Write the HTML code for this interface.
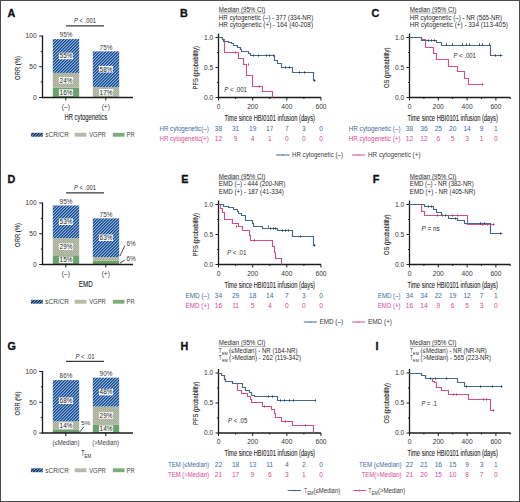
<!DOCTYPE html>
<html><head><meta charset="utf-8"><style>
html,body{margin:0;padding:0;background:#fff;}
svg{display:block;font-family:'Liberation Sans', sans-serif;}
</style></head><body>
<svg width="520" height="502" viewBox="0 0 520 502">
<defs>
<pattern id="hatch" patternUnits="userSpaceOnUse" width="3" height="3">
<rect x="0" y="0" width="1" height="1" fill="#1d4a86"/>
<rect x="1" y="0" width="1" height="1" fill="#4072b0"/>
<rect x="2" y="0" width="1" height="1" fill="#8cb2e2"/>
<rect x="0" y="1" width="1" height="1" fill="#4072b0"/>
<rect x="1" y="1" width="1" height="1" fill="#8cb2e2"/>
<rect x="2" y="1" width="1" height="1" fill="#1d4a86"/>
<rect x="0" y="2" width="1" height="1" fill="#8cb2e2"/>
<rect x="1" y="2" width="1" height="1" fill="#1d4a86"/>
<rect x="2" y="2" width="1" height="1" fill="#4072b0"/>
</pattern>
<pattern id="gray" patternUnits="userSpaceOnUse" width="2" height="2">
<rect x="0" y="0" width="1" height="1" fill="#c0c5b2"/>
<rect x="1" y="0" width="1" height="1" fill="#a2aa95"/>
<rect x="0" y="1" width="1" height="1" fill="#a6ae9a"/>
<rect x="1" y="1" width="1" height="1" fill="#bac0ac"/>
</pattern>
<pattern id="hatchL" patternUnits="userSpaceOnUse" width="3" height="3"><rect x="0" y="0" width="1" height="1" fill="#0f2f55"/><rect x="1" y="0" width="1" height="1" fill="#2c5488"/><rect x="2" y="0" width="1" height="1" fill="#7c9cc6"/><rect x="0" y="1" width="1" height="1" fill="#2c5488"/><rect x="1" y="1" width="1" height="1" fill="#7c9cc6"/><rect x="2" y="1" width="1" height="1" fill="#0f2f55"/><rect x="0" y="2" width="1" height="1" fill="#7c9cc6"/><rect x="1" y="2" width="1" height="1" fill="#0f2f55"/><rect x="2" y="2" width="1" height="1" fill="#2c5488"/></pattern>
</defs>
<rect x="0" y="0" width="520" height="502" fill="#fff"/>
<text x="7.60" y="16.50" font-size="10.8" fill="#111" font-weight="bold" stroke="#111" stroke-width="0.3">A</text>
<text x="85.00" y="23.05" font-size="6.8" fill="#2e2e2e" text-anchor="middle" textLength="22.20" lengthAdjust="spacingAndGlyphs"><tspan font-style="italic">P</tspan> &lt; .001</text>
<line x1="66.00" y1="25.90" x2="104.00" y2="25.90" stroke="#3a3a3a" stroke-width="1.15"/>
<line x1="42.50" y1="35.50" x2="42.50" y2="98.20" stroke="#1c1c1c" stroke-width="1.3"/>
<line x1="39.20" y1="97.50" x2="42.50" y2="97.50" stroke="#1c1c1c" stroke-width="1"/>
<line x1="39.20" y1="66.75" x2="42.50" y2="66.75" stroke="#1c1c1c" stroke-width="1"/>
<line x1="39.20" y1="36.00" x2="42.50" y2="36.00" stroke="#1c1c1c" stroke-width="1"/>
<line x1="40.80" y1="82.12" x2="42.50" y2="82.12" stroke="#1c1c1c" stroke-width="1"/>
<line x1="40.80" y1="51.38" x2="42.50" y2="51.38" stroke="#1c1c1c" stroke-width="1"/>
<text x="36.60" y="38.38" font-size="6.6" fill="#333" text-anchor="end">100</text>
<text x="36.60" y="69.13" font-size="6.6" fill="#333" text-anchor="end">50</text>
<text x="36.60" y="99.88" font-size="6.6" fill="#333" text-anchor="end">0</text>
<text x="0" y="0" font-size="7.4" fill="#2a2a2a" stroke="#2a2a2a" stroke-width="0.12" text-anchor="middle" textLength="23.8" lengthAdjust="spacingAndGlyphs" transform="translate(20.4,68) rotate(-90)">ORR (%)</text>
<rect x="52.80" y="87.66" width="26.40" height="9.84" fill="#6ca36d"/>
<rect x="52.80" y="72.90" width="26.40" height="14.76" fill="url(#gray)"/>
<rect x="52.80" y="39.08" width="26.40" height="33.83" fill="url(#hatch)"/>
<rect x="58.90" y="89.28" width="14.20" height="6.60" fill="rgba(255,255,255,0.94)"/>
<text x="66.00" y="94.88" font-size="6.4" fill="#262626" text-anchor="middle">16%</text>
<rect x="58.90" y="76.98" width="14.20" height="6.60" fill="rgba(255,255,255,0.94)"/>
<text x="66.00" y="82.58" font-size="6.4" fill="#262626" text-anchor="middle">24%</text>
<rect x="58.90" y="52.69" width="14.20" height="6.60" fill="rgba(255,255,255,0.94)"/>
<text x="66.00" y="58.29" font-size="6.4" fill="#262626" text-anchor="middle">55%</text>
<text x="66.00" y="37.28" font-size="6.4" fill="#3a3a3a" text-anchor="middle">95%</text>
<rect x="92.80" y="87.05" width="26.40" height="10.45" fill="url(#gray)"/>
<rect x="92.80" y="51.38" width="26.40" height="35.67" fill="url(#hatch)"/>
<rect x="98.90" y="88.97" width="14.20" height="6.60" fill="rgba(255,255,255,0.94)"/>
<text x="106.00" y="94.58" font-size="6.4" fill="#262626" text-anchor="middle">17%</text>
<rect x="98.90" y="65.91" width="14.20" height="6.60" fill="rgba(255,255,255,0.94)"/>
<text x="106.00" y="71.51" font-size="6.4" fill="#262626" text-anchor="middle">58%</text>
<text x="106.00" y="49.58" font-size="6.4" fill="#3a3a3a" text-anchor="middle">75%</text>
<line x1="41.90" y1="97.50" x2="133.00" y2="97.50" stroke="#1c1c1c" stroke-width="1.4"/>
<line x1="65.80" y1="97.50" x2="65.80" y2="100.50" stroke="#1c1c1c" stroke-width="1"/>
<line x1="105.80" y1="97.50" x2="105.80" y2="100.50" stroke="#1c1c1c" stroke-width="1"/>
<text x="65.80" y="109.08" font-size="6.6" fill="#3a3a3a" text-anchor="middle">(–)</text>
<text x="105.80" y="109.08" font-size="6.6" fill="#3a3a3a" text-anchor="middle">(+)</text>
<text x="0" y="0" font-size="8.4" fill="#2a2a2a" stroke="#2a2a2a" stroke-width="0.12" text-anchor="middle" textLength="42.5" lengthAdjust="spacingAndGlyphs" transform="translate(85.8,120.1)">HR cytogenetics</text>
<rect x="30.90" y="132.80" width="11.90" height="3.90" fill="url(#hatchL)"/>
<text x="45.30" y="137.11" font-size="6.7" fill="#444" textLength="23.60" lengthAdjust="spacingAndGlyphs">sCR/CR</text>
<rect x="74.70" y="132.80" width="11.70" height="3.90" fill="#b5bba8"/>
<text x="89.20" y="137.11" font-size="6.7" fill="#444" textLength="16.60" lengthAdjust="spacingAndGlyphs">VGPR</text>
<rect x="112.80" y="132.80" width="11.70" height="3.90" fill="#7cae7c"/>
<text x="126.60" y="137.11" font-size="6.7" fill="#444" textLength="8.10" lengthAdjust="spacingAndGlyphs">PR</text>
<text x="7.60" y="183.20" font-size="10.8" fill="#111" font-weight="bold" stroke="#111" stroke-width="0.3">D</text>
<text x="85.00" y="190.05" font-size="6.8" fill="#2e2e2e" text-anchor="middle" textLength="22.20" lengthAdjust="spacingAndGlyphs"><tspan font-style="italic">P</tspan> &lt; .001</text>
<line x1="66.00" y1="192.90" x2="104.00" y2="192.90" stroke="#3a3a3a" stroke-width="1.15"/>
<line x1="42.50" y1="202.50" x2="42.50" y2="265.20" stroke="#1c1c1c" stroke-width="1.3"/>
<line x1="39.20" y1="264.50" x2="42.50" y2="264.50" stroke="#1c1c1c" stroke-width="1"/>
<line x1="39.20" y1="233.75" x2="42.50" y2="233.75" stroke="#1c1c1c" stroke-width="1"/>
<line x1="39.20" y1="203.00" x2="42.50" y2="203.00" stroke="#1c1c1c" stroke-width="1"/>
<line x1="40.80" y1="249.12" x2="42.50" y2="249.12" stroke="#1c1c1c" stroke-width="1"/>
<line x1="40.80" y1="218.38" x2="42.50" y2="218.38" stroke="#1c1c1c" stroke-width="1"/>
<text x="36.60" y="205.38" font-size="6.6" fill="#333" text-anchor="end">100</text>
<text x="36.60" y="236.13" font-size="6.6" fill="#333" text-anchor="end">50</text>
<text x="36.60" y="266.88" font-size="6.6" fill="#333" text-anchor="end">0</text>
<text x="0" y="0" font-size="7.4" fill="#2a2a2a" stroke="#2a2a2a" stroke-width="0.12" text-anchor="middle" textLength="23.8" lengthAdjust="spacingAndGlyphs" transform="translate(20.4,235) rotate(-90)">ORR (%)</text>
<rect x="52.80" y="255.28" width="26.40" height="9.22" fill="#6ca36d"/>
<rect x="52.80" y="238.06" width="26.40" height="17.22" fill="url(#gray)"/>
<rect x="52.80" y="205.46" width="26.40" height="32.59" fill="url(#hatch)"/>
<rect x="58.90" y="256.59" width="14.20" height="6.60" fill="rgba(255,255,255,0.94)"/>
<text x="66.00" y="262.19" font-size="6.4" fill="#262626" text-anchor="middle">15%</text>
<rect x="58.90" y="243.37" width="14.20" height="6.60" fill="rgba(255,255,255,0.94)"/>
<text x="66.00" y="248.97" font-size="6.4" fill="#262626" text-anchor="middle">29%</text>
<rect x="58.90" y="218.46" width="14.20" height="6.60" fill="rgba(255,255,255,0.94)"/>
<text x="66.00" y="224.06" font-size="6.4" fill="#262626" text-anchor="middle">53%</text>
<text x="66.00" y="203.66" font-size="6.4" fill="#3a3a3a" text-anchor="middle">95%</text>
<rect x="92.80" y="260.81" width="26.40" height="3.69" fill="#6ca36d"/>
<rect x="92.80" y="257.12" width="26.40" height="3.69" fill="url(#gray)"/>
<rect x="92.80" y="218.38" width="26.40" height="38.75" fill="url(#hatch)"/>
<rect x="98.90" y="234.45" width="14.20" height="6.60" fill="rgba(255,255,255,0.94)"/>
<text x="106.00" y="240.05" font-size="6.4" fill="#262626" text-anchor="middle">63%</text>
<text x="106.00" y="216.58" font-size="6.4" fill="#3a3a3a" text-anchor="middle">75%</text>
<line x1="41.90" y1="264.50" x2="133.00" y2="264.50" stroke="#1c1c1c" stroke-width="1.4"/>
<line x1="65.80" y1="264.50" x2="65.80" y2="267.50" stroke="#1c1c1c" stroke-width="1"/>
<line x1="105.80" y1="264.50" x2="105.80" y2="267.50" stroke="#1c1c1c" stroke-width="1"/>
<text x="65.80" y="276.08" font-size="6.6" fill="#3a3a3a" text-anchor="middle">(–)</text>
<text x="105.80" y="276.08" font-size="6.6" fill="#3a3a3a" text-anchor="middle">(+)</text>
<text x="0" y="0" font-size="8.4" fill="#2a2a2a" stroke="#2a2a2a" stroke-width="0.12" text-anchor="middle" textLength="14" lengthAdjust="spacingAndGlyphs" transform="translate(85.8,287.1)">EMD</text>
<text x="126.50" y="246.00" font-size="6.4" fill="#3a3a3a">6%</text>
<text x="126.50" y="260.80" font-size="6.4" fill="#3a3a3a">6%</text>
<line x1="120.00" y1="256.00" x2="124.80" y2="245.50" stroke="#222" stroke-width="0.8"/>
<line x1="120.00" y1="263.20" x2="124.80" y2="260.00" stroke="#222" stroke-width="0.8"/>
<rect x="30.90" y="299.80" width="11.90" height="3.90" fill="url(#hatchL)"/>
<text x="45.30" y="304.11" font-size="6.7" fill="#444" textLength="23.60" lengthAdjust="spacingAndGlyphs">sCR/CR</text>
<rect x="74.70" y="299.80" width="11.70" height="3.90" fill="#b5bba8"/>
<text x="89.20" y="304.11" font-size="6.7" fill="#444" textLength="16.60" lengthAdjust="spacingAndGlyphs">VGPR</text>
<rect x="112.80" y="299.80" width="11.70" height="3.90" fill="#7cae7c"/>
<text x="126.60" y="304.11" font-size="6.7" fill="#444" textLength="8.10" lengthAdjust="spacingAndGlyphs">PR</text>
<text x="7.60" y="349.80" font-size="10.8" fill="#111" font-weight="bold" stroke="#111" stroke-width="0.3">G</text>
<text x="85.00" y="358.55" font-size="6.8" fill="#2e2e2e" text-anchor="middle" textLength="19.20" lengthAdjust="spacingAndGlyphs"><tspan font-style="italic">P</tspan> &lt; .01</text>
<line x1="66.00" y1="361.40" x2="104.00" y2="361.40" stroke="#3a3a3a" stroke-width="1.15"/>
<line x1="42.50" y1="371.00" x2="42.50" y2="433.70" stroke="#1c1c1c" stroke-width="1.3"/>
<line x1="39.20" y1="433.00" x2="42.50" y2="433.00" stroke="#1c1c1c" stroke-width="1"/>
<line x1="39.20" y1="402.25" x2="42.50" y2="402.25" stroke="#1c1c1c" stroke-width="1"/>
<line x1="39.20" y1="371.50" x2="42.50" y2="371.50" stroke="#1c1c1c" stroke-width="1"/>
<line x1="40.80" y1="417.62" x2="42.50" y2="417.62" stroke="#1c1c1c" stroke-width="1"/>
<line x1="40.80" y1="386.88" x2="42.50" y2="386.88" stroke="#1c1c1c" stroke-width="1"/>
<text x="36.60" y="373.88" font-size="6.6" fill="#333" text-anchor="end">100</text>
<text x="36.60" y="404.63" font-size="6.6" fill="#333" text-anchor="end">50</text>
<text x="36.60" y="435.38" font-size="6.6" fill="#333" text-anchor="end">0</text>
<text x="0" y="0" font-size="7.4" fill="#2a2a2a" stroke="#2a2a2a" stroke-width="0.12" text-anchor="middle" textLength="23.8" lengthAdjust="spacingAndGlyphs" transform="translate(20.4,403.5) rotate(-90)">ORR (%)</text>
<rect x="52.80" y="429.93" width="26.40" height="3.07" fill="#6ca36d"/>
<rect x="52.80" y="421.31" width="26.40" height="8.61" fill="url(#gray)"/>
<rect x="52.80" y="380.11" width="26.40" height="41.20" fill="url(#hatch)"/>
<rect x="58.90" y="422.32" width="14.20" height="6.60" fill="rgba(255,255,255,0.94)"/>
<text x="66.00" y="427.92" font-size="6.4" fill="#262626" text-anchor="middle">14%</text>
<rect x="58.90" y="397.41" width="14.20" height="6.60" fill="rgba(255,255,255,0.94)"/>
<text x="66.00" y="403.02" font-size="6.4" fill="#262626" text-anchor="middle">68%</text>
<text x="66.00" y="378.31" font-size="6.4" fill="#3a3a3a" text-anchor="middle">86%</text>
<rect x="92.80" y="424.39" width="26.40" height="8.61" fill="#6ca36d"/>
<rect x="92.80" y="406.56" width="26.40" height="17.83" fill="url(#gray)"/>
<rect x="92.80" y="377.65" width="26.40" height="28.91" fill="url(#hatch)"/>
<rect x="98.90" y="425.39" width="14.20" height="6.60" fill="rgba(255,255,255,0.94)"/>
<text x="106.00" y="431.00" font-size="6.4" fill="#262626" text-anchor="middle">14%</text>
<rect x="98.90" y="412.17" width="14.20" height="6.60" fill="rgba(255,255,255,0.94)"/>
<text x="106.00" y="417.78" font-size="6.4" fill="#262626" text-anchor="middle">29%</text>
<rect x="98.90" y="388.80" width="14.20" height="6.60" fill="rgba(255,255,255,0.94)"/>
<text x="106.00" y="394.41" font-size="6.4" fill="#262626" text-anchor="middle">48%</text>
<text x="106.00" y="375.85" font-size="6.4" fill="#3a3a3a" text-anchor="middle">90%</text>
<line x1="41.90" y1="433.00" x2="133.00" y2="433.00" stroke="#1c1c1c" stroke-width="1.4"/>
<line x1="65.80" y1="433.00" x2="65.80" y2="436.00" stroke="#1c1c1c" stroke-width="1"/>
<line x1="105.80" y1="433.00" x2="105.80" y2="436.00" stroke="#1c1c1c" stroke-width="1"/>
<text x="52.50" y="444.58" font-size="6.6" fill="#3a3a3a" textLength="26.90" lengthAdjust="spacingAndGlyphs">(≤Median)</text>
<text x="92.20" y="444.58" font-size="6.6" fill="#3a3a3a" textLength="26.70" lengthAdjust="spacingAndGlyphs">(>Median)</text>
<text x="81.4" y="455.8" font-size="8.4" fill="#2a2a2a" stroke="#2a2a2a" stroke-width="0.12" textLength="2.6" lengthAdjust="spacingAndGlyphs">T</text>
<text x="84.6" y="458.2" font-size="6" fill="#2a2a2a" textLength="6.6" lengthAdjust="spacingAndGlyphs">EM</text>
<text x="81.20" y="425.23" font-size="6.2" fill="#333">5%</text>
<line x1="79.50" y1="432.30" x2="84.00" y2="426.50" stroke="#222" stroke-width="0.8"/>
<rect x="30.90" y="468.30" width="11.90" height="3.90" fill="url(#hatchL)"/>
<text x="45.30" y="472.61" font-size="6.7" fill="#444" textLength="23.60" lengthAdjust="spacingAndGlyphs">sCR/CR</text>
<rect x="74.70" y="468.30" width="11.70" height="3.90" fill="#b5bba8"/>
<text x="89.20" y="472.61" font-size="6.7" fill="#444" textLength="16.60" lengthAdjust="spacingAndGlyphs">VGPR</text>
<rect x="112.80" y="468.30" width="11.70" height="3.90" fill="#7cae7c"/>
<text x="126.60" y="472.61" font-size="6.7" fill="#444" textLength="8.10" lengthAdjust="spacingAndGlyphs">PR</text>
<text x="180.00" y="16.70" font-size="10.8" fill="#111" font-weight="bold" stroke="#111" stroke-width="0.3">B</text>
<text x="218.80" y="12.10" font-size="6.7" fill="#2a2a2a" textLength="46.60" lengthAdjust="spacingAndGlyphs">Median (95% CI)</text>
<line x1="218.80" y1="13.00" x2="265.40" y2="13.00" stroke="#555" stroke-width="0.5"/>
<text x="218.80" y="19.50" font-size="6.7" fill="#2a2a2a" textLength="94.60" lengthAdjust="spacingAndGlyphs">HR cytogenetic (–) - 377 (334-NR)</text>
<text x="218.80" y="26.80" font-size="6.7" fill="#2a2a2a" textLength="94.20" lengthAdjust="spacingAndGlyphs">HR cytogenetic (+) - 164 (40-208)</text>
<line x1="218.50" y1="33.50" x2="218.50" y2="98.20" stroke="#1c1c1c" stroke-width="1.3"/>
<line x1="215.50" y1="97.50" x2="218.50" y2="97.50" stroke="#1c1c1c" stroke-width="1"/>
<line x1="215.50" y1="67.50" x2="218.50" y2="67.50" stroke="#1c1c1c" stroke-width="1"/>
<line x1="215.50" y1="37.50" x2="218.50" y2="37.50" stroke="#1c1c1c" stroke-width="1"/>
<line x1="217.00" y1="82.50" x2="218.50" y2="82.50" stroke="#1c1c1c" stroke-width="1"/>
<line x1="217.00" y1="52.50" x2="218.50" y2="52.50" stroke="#1c1c1c" stroke-width="1"/>
<text x="213.20" y="39.88" font-size="6.6" fill="#333" text-anchor="end">1.0</text>
<text x="213.20" y="69.88" font-size="6.6" fill="#333" text-anchor="end">0.5</text>
<text x="213.20" y="99.88" font-size="6.6" fill="#333" text-anchor="end">0.0</text>
<line x1="217.90" y1="97.50" x2="320.98" y2="97.50" stroke="#1c1c1c" stroke-width="1.4"/>
<line x1="218.50" y1="97.50" x2="218.50" y2="100.50" stroke="#1c1c1c" stroke-width="1"/>
<text x="218.50" y="108.88" font-size="6.6" fill="#333" text-anchor="middle">0</text>
<line x1="235.58" y1="97.50" x2="235.58" y2="99.00" stroke="#1c1c1c" stroke-width="1"/>
<line x1="252.66" y1="97.50" x2="252.66" y2="100.50" stroke="#1c1c1c" stroke-width="1"/>
<text x="252.66" y="108.88" font-size="6.6" fill="#333" text-anchor="middle">200</text>
<line x1="269.74" y1="97.50" x2="269.74" y2="99.00" stroke="#1c1c1c" stroke-width="1"/>
<line x1="286.82" y1="97.50" x2="286.82" y2="100.50" stroke="#1c1c1c" stroke-width="1"/>
<text x="286.82" y="108.88" font-size="6.6" fill="#333" text-anchor="middle">400</text>
<line x1="303.90" y1="97.50" x2="303.90" y2="99.00" stroke="#1c1c1c" stroke-width="1"/>
<line x1="320.98" y1="97.50" x2="320.98" y2="100.50" stroke="#1c1c1c" stroke-width="1"/>
<text x="320.98" y="108.88" font-size="6.6" fill="#333" text-anchor="middle">600</text>
<text x="269.74" y="120.80" font-size="8.6" fill="#2a2a2a" stroke="#2a2a2a" stroke-width="0.12" text-anchor="middle" textLength="90.4" lengthAdjust="spacingAndGlyphs">Time since HBI0101 infusion (days)</text>
<text x="0" y="0" font-size="8" fill="#2a2a2a" stroke="#2a2a2a" stroke-width="0.12" text-anchor="middle" textLength="43.4" lengthAdjust="spacingAndGlyphs" transform="translate(198.3,67.8) rotate(-90)">PFS (probability)</text>
<text x="224.20" y="92.15" font-size="6.8" fill="#2a2a2a" textLength="22.70" lengthAdjust="spacingAndGlyphs"><tspan font-style="italic">P</tspan> &lt; .001</text>
<path d="M218.50,37.50H222.50V39.50H224.50V52.50H238.50V58.50H243.50V64.50H246.50V75.50H252.50V86.50H262.50V91.50H272.50V97.50" stroke="#d0508e" stroke-width="1.15" fill="none"/>
<path d="M218.50,37.50H222.50V39.50H223.50V41.50H228.50V42.50H231.50V43.50H233.50V45.50H237.50V47.50H240.50V49.50H241.50V51.50H248.50V53.50H250.50V55.50H274.50V60.50H277.50V63.50H281.50V67.50H292.50V72.50H313.50V80.50H315.50V80.50" stroke="#44698c" stroke-width="1.15" fill="none"/>
<line x1="253.50" y1="54.40" x2="253.50" y2="56.60" stroke="#1f3a55" stroke-width="0.9"/>
<line x1="258.50" y1="54.40" x2="258.50" y2="56.60" stroke="#1f3a55" stroke-width="0.9"/>
<line x1="266.50" y1="54.40" x2="266.50" y2="56.60" stroke="#1f3a55" stroke-width="0.9"/>
<line x1="269.50" y1="54.40" x2="269.50" y2="56.60" stroke="#1f3a55" stroke-width="0.9"/>
<line x1="273.50" y1="54.40" x2="273.50" y2="56.60" stroke="#1f3a55" stroke-width="0.9"/>
<line x1="285.50" y1="66.40" x2="285.50" y2="68.60" stroke="#1f3a55" stroke-width="0.9"/>
<line x1="289.50" y1="66.40" x2="289.50" y2="68.60" stroke="#1f3a55" stroke-width="0.9"/>
<line x1="299.50" y1="71.40" x2="299.50" y2="73.60" stroke="#1f3a55" stroke-width="0.9"/>
<line x1="304.50" y1="71.40" x2="304.50" y2="73.60" stroke="#1f3a55" stroke-width="0.9"/>
<line x1="314.50" y1="79.40" x2="314.50" y2="81.60" stroke="#1f3a55" stroke-width="0.9"/>
<line x1="235.50" y1="51.40" x2="235.50" y2="53.60" stroke="#a83570" stroke-width="0.9"/>
<line x1="248.50" y1="63.40" x2="248.50" y2="65.60" stroke="#a83570" stroke-width="0.9"/>
<line x1="259.50" y1="85.40" x2="259.50" y2="87.60" stroke="#a83570" stroke-width="0.9"/>
<text x="159.50" y="131.18" font-size="6.6" fill="#3d6c9c" textLength="49.20" lengthAdjust="spacingAndGlyphs">HR cytogenetic(–)</text>
<text x="218.50" y="131.18" font-size="6.6" fill="#3d6c9c" text-anchor="middle">38</text>
<text x="235.58" y="131.18" font-size="6.6" fill="#3d6c9c" text-anchor="middle">31</text>
<text x="252.66" y="131.18" font-size="6.6" fill="#3d6c9c" text-anchor="middle">19</text>
<text x="269.74" y="131.18" font-size="6.6" fill="#3d6c9c" text-anchor="middle">17</text>
<text x="286.82" y="131.18" font-size="6.6" fill="#3d6c9c" text-anchor="middle">7</text>
<text x="303.90" y="131.18" font-size="6.6" fill="#3d6c9c" text-anchor="middle">3</text>
<text x="320.98" y="131.18" font-size="6.6" fill="#3d6c9c" text-anchor="middle">0</text>
<text x="159.50" y="141.08" font-size="6.6" fill="#d64896" textLength="49.20" lengthAdjust="spacingAndGlyphs">HR cytogenetic(+)</text>
<text x="218.50" y="141.08" font-size="6.6" fill="#d64896" text-anchor="middle">12</text>
<text x="235.58" y="141.08" font-size="6.6" fill="#d64896" text-anchor="middle">9</text>
<text x="252.66" y="141.08" font-size="6.6" fill="#d64896" text-anchor="middle">4</text>
<text x="269.74" y="141.08" font-size="6.6" fill="#d64896" text-anchor="middle">1</text>
<text x="286.82" y="141.08" font-size="6.6" fill="#d64896" text-anchor="middle">0</text>
<text x="303.90" y="141.08" font-size="6.6" fill="#d64896" text-anchor="middle">0</text>
<text x="320.98" y="141.08" font-size="6.6" fill="#d64896" text-anchor="middle">0</text>
<line x1="276.00" y1="155.00" x2="289.50" y2="155.00" stroke="#44698c" stroke-width="1"/>
<line x1="282.75" y1="154.00" x2="282.75" y2="156.00" stroke="#44698c" stroke-width="0.6"/>
<text x="292.00" y="157.34" font-size="6.5" fill="#3a3a3a" textLength="51.00" lengthAdjust="spacingAndGlyphs">HR cytogenetic (–)</text>
<line x1="352.00" y1="155.00" x2="365.00" y2="155.00" stroke="#d0508e" stroke-width="1"/>
<line x1="358.50" y1="154.00" x2="358.50" y2="156.00" stroke="#d0508e" stroke-width="0.6"/>
<text x="368.00" y="157.34" font-size="6.5" fill="#3a3a3a" textLength="52.50" lengthAdjust="spacingAndGlyphs">HR cytogenetic (+)</text>
<text x="371.50" y="16.70" font-size="10.8" fill="#111" font-weight="bold" stroke="#111" stroke-width="0.3">C</text>
<text x="409.80" y="12.10" font-size="6.7" fill="#2a2a2a" textLength="46.60" lengthAdjust="spacingAndGlyphs">Median (95% CI)</text>
<line x1="409.80" y1="13.00" x2="456.40" y2="13.00" stroke="#555" stroke-width="0.5"/>
<text x="409.80" y="19.50" font-size="6.7" fill="#2a2a2a" textLength="92.20" lengthAdjust="spacingAndGlyphs">HR cytogenetic (–) - NR (565-NR)</text>
<text x="409.80" y="26.80" font-size="6.7" fill="#2a2a2a" textLength="98.00" lengthAdjust="spacingAndGlyphs">HR cytogenetic (+) - 334 (113-405)</text>
<line x1="409.50" y1="33.50" x2="409.50" y2="98.20" stroke="#1c1c1c" stroke-width="1.3"/>
<line x1="406.50" y1="97.50" x2="409.50" y2="97.50" stroke="#1c1c1c" stroke-width="1"/>
<line x1="406.50" y1="67.50" x2="409.50" y2="67.50" stroke="#1c1c1c" stroke-width="1"/>
<line x1="406.50" y1="37.50" x2="409.50" y2="37.50" stroke="#1c1c1c" stroke-width="1"/>
<line x1="408.00" y1="82.50" x2="409.50" y2="82.50" stroke="#1c1c1c" stroke-width="1"/>
<line x1="408.00" y1="52.50" x2="409.50" y2="52.50" stroke="#1c1c1c" stroke-width="1"/>
<text x="404.20" y="39.88" font-size="6.6" fill="#333" text-anchor="end">1.0</text>
<text x="404.20" y="69.88" font-size="6.6" fill="#333" text-anchor="end">0.5</text>
<text x="404.20" y="99.88" font-size="6.6" fill="#333" text-anchor="end">0.0</text>
<line x1="408.90" y1="97.50" x2="510.30" y2="97.50" stroke="#1c1c1c" stroke-width="1.4"/>
<line x1="409.50" y1="97.50" x2="409.50" y2="100.50" stroke="#1c1c1c" stroke-width="1"/>
<text x="409.50" y="108.88" font-size="6.6" fill="#333" text-anchor="middle">0</text>
<line x1="423.90" y1="97.50" x2="423.90" y2="99.00" stroke="#1c1c1c" stroke-width="1"/>
<line x1="438.30" y1="97.50" x2="438.30" y2="100.50" stroke="#1c1c1c" stroke-width="1"/>
<text x="438.30" y="108.88" font-size="6.6" fill="#333" text-anchor="middle">200</text>
<line x1="452.70" y1="97.50" x2="452.70" y2="99.00" stroke="#1c1c1c" stroke-width="1"/>
<line x1="467.10" y1="97.50" x2="467.10" y2="100.50" stroke="#1c1c1c" stroke-width="1"/>
<text x="467.10" y="108.88" font-size="6.6" fill="#333" text-anchor="middle">400</text>
<line x1="481.50" y1="97.50" x2="481.50" y2="99.00" stroke="#1c1c1c" stroke-width="1"/>
<line x1="495.90" y1="97.50" x2="495.90" y2="100.50" stroke="#1c1c1c" stroke-width="1"/>
<text x="495.90" y="108.88" font-size="6.6" fill="#333" text-anchor="middle">600</text>
<line x1="510.30" y1="97.50" x2="510.30" y2="99.00" stroke="#1c1c1c" stroke-width="1"/>
<text x="452.70" y="120.80" font-size="8.6" fill="#2a2a2a" stroke="#2a2a2a" stroke-width="0.12" text-anchor="middle" textLength="90.4" lengthAdjust="spacingAndGlyphs">Time since HBI0101 infusion (days)</text>
<text x="0" y="0" font-size="8" fill="#2a2a2a" stroke="#2a2a2a" stroke-width="0.12" text-anchor="middle" textLength="40.5" lengthAdjust="spacingAndGlyphs" transform="translate(389.3,67.8) rotate(-90)">OS (probability)</text>
<text x="453.50" y="57.55" font-size="6.8" fill="#2a2a2a" textLength="22.30" lengthAdjust="spacingAndGlyphs"><tspan font-style="italic">P</tspan> &lt; .001</text>
<path d="M409.50,37.50H421.50V39.50H425.50V47.50H433.50V53.50H436.50V59.50H448.50V66.50H457.50V71.50H464.50V78.50H468.50V84.50H483.50V84.50" stroke="#d0508e" stroke-width="1.15" fill="none"/>
<path d="M409.50,37.50H421.50V40.50H436.50V42.50H441.50V45.50H490.50V55.50H502.50V55.50" stroke="#44698c" stroke-width="1.15" fill="none"/>
<line x1="428.50" y1="39.40" x2="428.50" y2="41.60" stroke="#1f3a55" stroke-width="0.9"/>
<line x1="431.50" y1="39.40" x2="431.50" y2="41.60" stroke="#1f3a55" stroke-width="0.9"/>
<line x1="434.50" y1="39.40" x2="434.50" y2="41.60" stroke="#1f3a55" stroke-width="0.9"/>
<line x1="446.50" y1="43.40" x2="446.50" y2="45.60" stroke="#1f3a55" stroke-width="0.9"/>
<line x1="452.50" y1="43.40" x2="452.50" y2="45.60" stroke="#1f3a55" stroke-width="0.9"/>
<line x1="462.50" y1="43.40" x2="462.50" y2="45.60" stroke="#1f3a55" stroke-width="0.9"/>
<line x1="466.50" y1="43.40" x2="466.50" y2="45.60" stroke="#1f3a55" stroke-width="0.9"/>
<line x1="469.50" y1="43.40" x2="469.50" y2="45.60" stroke="#1f3a55" stroke-width="0.9"/>
<line x1="479.50" y1="43.40" x2="479.50" y2="45.60" stroke="#1f3a55" stroke-width="0.9"/>
<line x1="482.50" y1="43.40" x2="482.50" y2="45.60" stroke="#1f3a55" stroke-width="0.9"/>
<line x1="489.50" y1="43.40" x2="489.50" y2="45.60" stroke="#1f3a55" stroke-width="0.9"/>
<line x1="495.50" y1="54.40" x2="495.50" y2="56.60" stroke="#1f3a55" stroke-width="0.9"/>
<line x1="500.50" y1="54.40" x2="500.50" y2="56.60" stroke="#1f3a55" stroke-width="0.9"/>
<line x1="482.50" y1="83.40" x2="482.50" y2="85.60" stroke="#a83570" stroke-width="0.9"/>
<text x="348.80" y="131.18" font-size="6.6" fill="#3d6c9c" textLength="51.70" lengthAdjust="spacingAndGlyphs">HR cytogenetic (–)</text>
<text x="409.50" y="131.18" font-size="6.6" fill="#3d6c9c" text-anchor="middle">38</text>
<text x="423.90" y="131.18" font-size="6.6" fill="#3d6c9c" text-anchor="middle">36</text>
<text x="438.30" y="131.18" font-size="6.6" fill="#3d6c9c" text-anchor="middle">25</text>
<text x="452.70" y="131.18" font-size="6.6" fill="#3d6c9c" text-anchor="middle">20</text>
<text x="467.10" y="131.18" font-size="6.6" fill="#3d6c9c" text-anchor="middle">14</text>
<text x="481.50" y="131.18" font-size="6.6" fill="#3d6c9c" text-anchor="middle">9</text>
<text x="495.90" y="131.18" font-size="6.6" fill="#3d6c9c" text-anchor="middle">1</text>
<text x="348.80" y="141.08" font-size="6.6" fill="#d64896" textLength="51.70" lengthAdjust="spacingAndGlyphs">HR cytogenetic (+)</text>
<text x="409.50" y="141.08" font-size="6.6" fill="#d64896" text-anchor="middle">12</text>
<text x="423.90" y="141.08" font-size="6.6" fill="#d64896" text-anchor="middle">12</text>
<text x="438.30" y="141.08" font-size="6.6" fill="#d64896" text-anchor="middle">6</text>
<text x="452.70" y="141.08" font-size="6.6" fill="#d64896" text-anchor="middle">5</text>
<text x="467.10" y="141.08" font-size="6.6" fill="#d64896" text-anchor="middle">3</text>
<text x="481.50" y="141.08" font-size="6.6" fill="#d64896" text-anchor="middle">1</text>
<text x="495.90" y="141.08" font-size="6.6" fill="#d64896" text-anchor="middle">0</text>
<text x="181.20" y="183.40" font-size="10.8" fill="#111" font-weight="bold" stroke="#111" stroke-width="0.3">E</text>
<text x="218.80" y="178.80" font-size="6.7" fill="#2a2a2a" textLength="46.60" lengthAdjust="spacingAndGlyphs">Median (95% CI)</text>
<line x1="218.80" y1="179.70" x2="265.40" y2="179.70" stroke="#555" stroke-width="0.5"/>
<text x="218.80" y="186.20" font-size="6.7" fill="#2a2a2a" textLength="66.50" lengthAdjust="spacingAndGlyphs">EMD (–) - 444 (200-NR)</text>
<text x="218.80" y="193.50" font-size="6.7" fill="#2a2a2a" textLength="65.00" lengthAdjust="spacingAndGlyphs">EMD (+) - 187 (41-334)</text>
<line x1="218.50" y1="200.50" x2="218.50" y2="265.20" stroke="#1c1c1c" stroke-width="1.3"/>
<line x1="215.50" y1="264.50" x2="218.50" y2="264.50" stroke="#1c1c1c" stroke-width="1"/>
<line x1="215.50" y1="234.50" x2="218.50" y2="234.50" stroke="#1c1c1c" stroke-width="1"/>
<line x1="215.50" y1="204.50" x2="218.50" y2="204.50" stroke="#1c1c1c" stroke-width="1"/>
<line x1="217.00" y1="249.50" x2="218.50" y2="249.50" stroke="#1c1c1c" stroke-width="1"/>
<line x1="217.00" y1="219.50" x2="218.50" y2="219.50" stroke="#1c1c1c" stroke-width="1"/>
<text x="213.20" y="206.88" font-size="6.6" fill="#333" text-anchor="end">1.0</text>
<text x="213.20" y="236.88" font-size="6.6" fill="#333" text-anchor="end">0.5</text>
<text x="213.20" y="266.88" font-size="6.6" fill="#333" text-anchor="end">0.0</text>
<line x1="217.90" y1="264.50" x2="320.98" y2="264.50" stroke="#1c1c1c" stroke-width="1.4"/>
<line x1="218.50" y1="264.50" x2="218.50" y2="267.50" stroke="#1c1c1c" stroke-width="1"/>
<text x="218.50" y="275.88" font-size="6.6" fill="#333" text-anchor="middle">0</text>
<line x1="235.58" y1="264.50" x2="235.58" y2="266.00" stroke="#1c1c1c" stroke-width="1"/>
<line x1="252.66" y1="264.50" x2="252.66" y2="267.50" stroke="#1c1c1c" stroke-width="1"/>
<text x="252.66" y="275.88" font-size="6.6" fill="#333" text-anchor="middle">200</text>
<line x1="269.74" y1="264.50" x2="269.74" y2="266.00" stroke="#1c1c1c" stroke-width="1"/>
<line x1="286.82" y1="264.50" x2="286.82" y2="267.50" stroke="#1c1c1c" stroke-width="1"/>
<text x="286.82" y="275.88" font-size="6.6" fill="#333" text-anchor="middle">400</text>
<line x1="303.90" y1="264.50" x2="303.90" y2="266.00" stroke="#1c1c1c" stroke-width="1"/>
<line x1="320.98" y1="264.50" x2="320.98" y2="267.50" stroke="#1c1c1c" stroke-width="1"/>
<text x="320.98" y="275.88" font-size="6.6" fill="#333" text-anchor="middle">600</text>
<text x="269.74" y="287.80" font-size="8.6" fill="#2a2a2a" stroke="#2a2a2a" stroke-width="0.12" text-anchor="middle" textLength="90.4" lengthAdjust="spacingAndGlyphs">Time since HBI0101 infusion (days)</text>
<text x="0" y="0" font-size="8" fill="#2a2a2a" stroke="#2a2a2a" stroke-width="0.12" text-anchor="middle" textLength="43.4" lengthAdjust="spacingAndGlyphs" transform="translate(198.3,234.8) rotate(-90)">PFS (probability)</text>
<text x="227.30" y="255.05" font-size="6.8" fill="#2a2a2a" textLength="18.90" lengthAdjust="spacingAndGlyphs"><tspan font-style="italic">P</tspan> &lt; .01</text>
<path d="M218.50,204.50H220.50V208.50H222.50V212.50H224.50V219.50H232.50V223.50H238.50V226.50H242.50V230.50H249.50V235.50H250.50V240.50H272.50V246.50H274.50V252.50H275.50V258.50H281.50V264.50" stroke="#d0508e" stroke-width="1.15" fill="none"/>
<path d="M218.50,204.50H223.50V206.50H228.50V207.50H233.50V209.50H237.50V211.50H238.50V213.50H241.50V215.50H245.50V220.50H252.50V223.50H253.50V226.50H262.50V228.50H277.50V230.50H292.50V236.50H313.50V245.50H315.50V245.50" stroke="#44698c" stroke-width="1.15" fill="none"/>
<line x1="268.50" y1="225.40" x2="268.50" y2="227.60" stroke="#1f3a55" stroke-width="0.9"/>
<line x1="270.50" y1="227.40" x2="270.50" y2="229.60" stroke="#1f3a55" stroke-width="0.9"/>
<line x1="273.50" y1="227.40" x2="273.50" y2="229.60" stroke="#1f3a55" stroke-width="0.9"/>
<line x1="275.50" y1="227.40" x2="275.50" y2="229.60" stroke="#1f3a55" stroke-width="0.9"/>
<line x1="282.50" y1="229.40" x2="282.50" y2="231.60" stroke="#1f3a55" stroke-width="0.9"/>
<line x1="285.50" y1="229.40" x2="285.50" y2="231.60" stroke="#1f3a55" stroke-width="0.9"/>
<line x1="288.50" y1="229.40" x2="288.50" y2="231.60" stroke="#1f3a55" stroke-width="0.9"/>
<line x1="300.50" y1="235.40" x2="300.50" y2="237.60" stroke="#1f3a55" stroke-width="0.9"/>
<line x1="314.50" y1="244.40" x2="314.50" y2="246.60" stroke="#1f3a55" stroke-width="0.9"/>
<line x1="236.50" y1="225.40" x2="236.50" y2="227.60" stroke="#a83570" stroke-width="0.9"/>
<line x1="254.50" y1="239.40" x2="254.50" y2="241.60" stroke="#a83570" stroke-width="0.9"/>
<text x="185.50" y="298.18" font-size="6.6" fill="#3d6c9c" textLength="23.80" lengthAdjust="spacingAndGlyphs">EMD (–)</text>
<text x="218.50" y="298.18" font-size="6.6" fill="#3d6c9c" text-anchor="middle">34</text>
<text x="235.58" y="298.18" font-size="6.6" fill="#3d6c9c" text-anchor="middle">29</text>
<text x="252.66" y="298.18" font-size="6.6" fill="#3d6c9c" text-anchor="middle">18</text>
<text x="269.74" y="298.18" font-size="6.6" fill="#3d6c9c" text-anchor="middle">14</text>
<text x="286.82" y="298.18" font-size="6.6" fill="#3d6c9c" text-anchor="middle">7</text>
<text x="303.90" y="298.18" font-size="6.6" fill="#3d6c9c" text-anchor="middle">3</text>
<text x="320.98" y="298.18" font-size="6.6" fill="#3d6c9c" text-anchor="middle">0</text>
<text x="185.50" y="308.08" font-size="6.6" fill="#d64896" textLength="23.80" lengthAdjust="spacingAndGlyphs">EMD (+)</text>
<text x="218.50" y="308.08" font-size="6.6" fill="#d64896" text-anchor="middle">16</text>
<text x="235.58" y="308.08" font-size="6.6" fill="#d64896" text-anchor="middle">11</text>
<text x="252.66" y="308.08" font-size="6.6" fill="#d64896" text-anchor="middle">5</text>
<text x="269.74" y="308.08" font-size="6.6" fill="#d64896" text-anchor="middle">4</text>
<text x="286.82" y="308.08" font-size="6.6" fill="#d64896" text-anchor="middle">0</text>
<text x="303.90" y="308.08" font-size="6.6" fill="#d64896" text-anchor="middle">0</text>
<text x="320.98" y="308.08" font-size="6.6" fill="#d64896" text-anchor="middle">0</text>
<line x1="303.80" y1="322.00" x2="317.00" y2="322.00" stroke="#44698c" stroke-width="1"/>
<line x1="310.40" y1="321.00" x2="310.40" y2="323.00" stroke="#44698c" stroke-width="0.6"/>
<text x="319.50" y="324.34" font-size="6.5" fill="#3a3a3a" textLength="23.50" lengthAdjust="spacingAndGlyphs">EMD (–)</text>
<line x1="352.00" y1="322.00" x2="365.00" y2="322.00" stroke="#d0508e" stroke-width="1"/>
<line x1="358.50" y1="321.00" x2="358.50" y2="323.00" stroke="#d0508e" stroke-width="0.6"/>
<text x="368.00" y="324.34" font-size="6.5" fill="#3a3a3a" textLength="24.00" lengthAdjust="spacingAndGlyphs">EMD (+)</text>
<text x="372.80" y="183.40" font-size="10.8" fill="#111" font-weight="bold" stroke="#111" stroke-width="0.3">F</text>
<text x="409.80" y="178.80" font-size="6.7" fill="#2a2a2a" textLength="46.60" lengthAdjust="spacingAndGlyphs">Median (95% CI)</text>
<line x1="409.80" y1="179.70" x2="456.40" y2="179.70" stroke="#555" stroke-width="0.5"/>
<text x="409.80" y="186.20" font-size="6.7" fill="#2a2a2a" textLength="64.00" lengthAdjust="spacingAndGlyphs">EMD (–) - NR (382-NR)</text>
<text x="409.80" y="193.50" font-size="6.7" fill="#2a2a2a" textLength="65.50" lengthAdjust="spacingAndGlyphs">EMD (+) - NR (405-NR)</text>
<line x1="409.50" y1="200.50" x2="409.50" y2="265.20" stroke="#1c1c1c" stroke-width="1.3"/>
<line x1="406.50" y1="264.50" x2="409.50" y2="264.50" stroke="#1c1c1c" stroke-width="1"/>
<line x1="406.50" y1="234.50" x2="409.50" y2="234.50" stroke="#1c1c1c" stroke-width="1"/>
<line x1="406.50" y1="204.50" x2="409.50" y2="204.50" stroke="#1c1c1c" stroke-width="1"/>
<line x1="408.00" y1="249.50" x2="409.50" y2="249.50" stroke="#1c1c1c" stroke-width="1"/>
<line x1="408.00" y1="219.50" x2="409.50" y2="219.50" stroke="#1c1c1c" stroke-width="1"/>
<text x="404.20" y="206.88" font-size="6.6" fill="#333" text-anchor="end">1.0</text>
<text x="404.20" y="236.88" font-size="6.6" fill="#333" text-anchor="end">0.5</text>
<text x="404.20" y="266.88" font-size="6.6" fill="#333" text-anchor="end">0.0</text>
<line x1="408.90" y1="264.50" x2="510.30" y2="264.50" stroke="#1c1c1c" stroke-width="1.4"/>
<line x1="409.50" y1="264.50" x2="409.50" y2="267.50" stroke="#1c1c1c" stroke-width="1"/>
<text x="409.50" y="275.88" font-size="6.6" fill="#333" text-anchor="middle">0</text>
<line x1="423.90" y1="264.50" x2="423.90" y2="266.00" stroke="#1c1c1c" stroke-width="1"/>
<line x1="438.30" y1="264.50" x2="438.30" y2="267.50" stroke="#1c1c1c" stroke-width="1"/>
<text x="438.30" y="275.88" font-size="6.6" fill="#333" text-anchor="middle">200</text>
<line x1="452.70" y1="264.50" x2="452.70" y2="266.00" stroke="#1c1c1c" stroke-width="1"/>
<line x1="467.10" y1="264.50" x2="467.10" y2="267.50" stroke="#1c1c1c" stroke-width="1"/>
<text x="467.10" y="275.88" font-size="6.6" fill="#333" text-anchor="middle">400</text>
<line x1="481.50" y1="264.50" x2="481.50" y2="266.00" stroke="#1c1c1c" stroke-width="1"/>
<line x1="495.90" y1="264.50" x2="495.90" y2="267.50" stroke="#1c1c1c" stroke-width="1"/>
<text x="495.90" y="275.88" font-size="6.6" fill="#333" text-anchor="middle">600</text>
<line x1="510.30" y1="264.50" x2="510.30" y2="266.00" stroke="#1c1c1c" stroke-width="1"/>
<text x="452.70" y="287.80" font-size="8.6" fill="#2a2a2a" stroke="#2a2a2a" stroke-width="0.12" text-anchor="middle" textLength="90.4" lengthAdjust="spacingAndGlyphs">Time since HBI0101 infusion (days)</text>
<text x="0" y="0" font-size="8" fill="#2a2a2a" stroke="#2a2a2a" stroke-width="0.12" text-anchor="middle" textLength="40.5" lengthAdjust="spacingAndGlyphs" transform="translate(389.3,234.8) rotate(-90)">OS (probability)</text>
<text x="421.60" y="231.25" font-size="6.8" fill="#2a2a2a" textLength="18.10" lengthAdjust="spacingAndGlyphs"><tspan font-style="italic">P</tspan> = ns</text>
<path d="M409.50,204.50H421.50V211.50H424.50V215.50H467.50V224.50H494.50V224.50" stroke="#d0508e" stroke-width="1.15" fill="none"/>
<path d="M409.50,204.50H424.50V206.50H433.50V209.50H436.50V212.50H441.50V215.50H448.50V218.50H457.50V220.50H464.50V223.50H490.50V233.50H502.50V233.50" stroke="#44698c" stroke-width="1.15" fill="none"/>
<line x1="428.50" y1="205.40" x2="428.50" y2="207.60" stroke="#1f3a55" stroke-width="0.9"/>
<line x1="431.50" y1="205.40" x2="431.50" y2="207.60" stroke="#1f3a55" stroke-width="0.9"/>
<line x1="445.50" y1="214.40" x2="445.50" y2="216.60" stroke="#1f3a55" stroke-width="0.9"/>
<line x1="455.50" y1="217.40" x2="455.50" y2="219.60" stroke="#1f3a55" stroke-width="0.9"/>
<line x1="480.50" y1="222.40" x2="480.50" y2="224.60" stroke="#1f3a55" stroke-width="0.9"/>
<line x1="484.50" y1="222.40" x2="484.50" y2="224.60" stroke="#1f3a55" stroke-width="0.9"/>
<line x1="500.50" y1="232.40" x2="500.50" y2="234.60" stroke="#1f3a55" stroke-width="0.9"/>
<line x1="437.50" y1="214.40" x2="437.50" y2="216.60" stroke="#a83570" stroke-width="0.9"/>
<line x1="442.50" y1="214.40" x2="442.50" y2="216.60" stroke="#a83570" stroke-width="0.9"/>
<line x1="452.50" y1="214.40" x2="452.50" y2="216.60" stroke="#a83570" stroke-width="0.9"/>
<line x1="457.50" y1="214.40" x2="457.50" y2="216.60" stroke="#a83570" stroke-width="0.9"/>
<line x1="482.50" y1="223.40" x2="482.50" y2="225.60" stroke="#a83570" stroke-width="0.9"/>
<line x1="487.50" y1="223.40" x2="487.50" y2="225.60" stroke="#a83570" stroke-width="0.9"/>
<line x1="493.50" y1="223.40" x2="493.50" y2="225.60" stroke="#a83570" stroke-width="0.9"/>
<text x="377.80" y="298.18" font-size="6.6" fill="#3d6c9c" textLength="22.80" lengthAdjust="spacingAndGlyphs">EMD (–)</text>
<text x="409.50" y="298.18" font-size="6.6" fill="#3d6c9c" text-anchor="middle">34</text>
<text x="423.90" y="298.18" font-size="6.6" fill="#3d6c9c" text-anchor="middle">34</text>
<text x="438.30" y="298.18" font-size="6.6" fill="#3d6c9c" text-anchor="middle">22</text>
<text x="452.70" y="298.18" font-size="6.6" fill="#3d6c9c" text-anchor="middle">19</text>
<text x="467.10" y="298.18" font-size="6.6" fill="#3d6c9c" text-anchor="middle">12</text>
<text x="481.50" y="298.18" font-size="6.6" fill="#3d6c9c" text-anchor="middle">7</text>
<text x="495.90" y="298.18" font-size="6.6" fill="#3d6c9c" text-anchor="middle">1</text>
<text x="377.80" y="308.08" font-size="6.6" fill="#d64896" textLength="22.80" lengthAdjust="spacingAndGlyphs">EMD (+)</text>
<text x="409.50" y="308.08" font-size="6.6" fill="#d64896" text-anchor="middle">16</text>
<text x="423.90" y="308.08" font-size="6.6" fill="#d64896" text-anchor="middle">14</text>
<text x="438.30" y="308.08" font-size="6.6" fill="#d64896" text-anchor="middle">9</text>
<text x="452.70" y="308.08" font-size="6.6" fill="#d64896" text-anchor="middle">6</text>
<text x="467.10" y="308.08" font-size="6.6" fill="#d64896" text-anchor="middle">5</text>
<text x="481.50" y="308.08" font-size="6.6" fill="#d64896" text-anchor="middle">3</text>
<text x="495.90" y="308.08" font-size="6.6" fill="#d64896" text-anchor="middle">0</text>
<text x="180.50" y="350.00" font-size="10.8" fill="#111" font-weight="bold" stroke="#111" stroke-width="0.3">H</text>
<text x="218.80" y="345.40" font-size="6.7" fill="#2a2a2a" textLength="46.60" lengthAdjust="spacingAndGlyphs">Median (95% CI)</text>
<line x1="218.80" y1="346.30" x2="265.40" y2="346.30" stroke="#555" stroke-width="0.5"/>
<line x1="218.50" y1="369.00" x2="218.50" y2="433.70" stroke="#1c1c1c" stroke-width="1.3"/>
<line x1="215.50" y1="433.00" x2="218.50" y2="433.00" stroke="#1c1c1c" stroke-width="1"/>
<line x1="215.50" y1="403.00" x2="218.50" y2="403.00" stroke="#1c1c1c" stroke-width="1"/>
<line x1="215.50" y1="373.00" x2="218.50" y2="373.00" stroke="#1c1c1c" stroke-width="1"/>
<line x1="217.00" y1="418.00" x2="218.50" y2="418.00" stroke="#1c1c1c" stroke-width="1"/>
<line x1="217.00" y1="388.00" x2="218.50" y2="388.00" stroke="#1c1c1c" stroke-width="1"/>
<text x="213.20" y="375.38" font-size="6.6" fill="#333" text-anchor="end">1.0</text>
<text x="213.20" y="405.38" font-size="6.6" fill="#333" text-anchor="end">0.5</text>
<text x="213.20" y="435.38" font-size="6.6" fill="#333" text-anchor="end">0.0</text>
<line x1="217.90" y1="433.00" x2="320.98" y2="433.00" stroke="#1c1c1c" stroke-width="1.4"/>
<line x1="218.50" y1="433.00" x2="218.50" y2="436.00" stroke="#1c1c1c" stroke-width="1"/>
<text x="218.50" y="444.38" font-size="6.6" fill="#333" text-anchor="middle">0</text>
<line x1="235.58" y1="433.00" x2="235.58" y2="434.50" stroke="#1c1c1c" stroke-width="1"/>
<line x1="252.66" y1="433.00" x2="252.66" y2="436.00" stroke="#1c1c1c" stroke-width="1"/>
<text x="252.66" y="444.38" font-size="6.6" fill="#333" text-anchor="middle">200</text>
<line x1="269.74" y1="433.00" x2="269.74" y2="434.50" stroke="#1c1c1c" stroke-width="1"/>
<line x1="286.82" y1="433.00" x2="286.82" y2="436.00" stroke="#1c1c1c" stroke-width="1"/>
<text x="286.82" y="444.38" font-size="6.6" fill="#333" text-anchor="middle">400</text>
<line x1="303.90" y1="433.00" x2="303.90" y2="434.50" stroke="#1c1c1c" stroke-width="1"/>
<line x1="320.98" y1="433.00" x2="320.98" y2="436.00" stroke="#1c1c1c" stroke-width="1"/>
<text x="320.98" y="444.38" font-size="6.6" fill="#333" text-anchor="middle">600</text>
<text x="269.74" y="456.30" font-size="8.6" fill="#2a2a2a" stroke="#2a2a2a" stroke-width="0.12" text-anchor="middle" textLength="90.4" lengthAdjust="spacingAndGlyphs">Time since HBI0101 infusion (days)</text>
<text x="0" y="0" font-size="8" fill="#2a2a2a" stroke="#2a2a2a" stroke-width="0.12" text-anchor="middle" textLength="43.4" lengthAdjust="spacingAndGlyphs" transform="translate(198.3,403.3) rotate(-90)">PFS (probability)</text>
<text x="228.10" y="422.95" font-size="6.8" fill="#2a2a2a" textLength="19.20" lengthAdjust="spacingAndGlyphs"><tspan font-style="italic">P</tspan> &lt; .05</text>
<path d="M218.50,373.50H221.50V375.50H224.50V379.50H225.50V381.50H232.50V383.50H237.50V387.50H237.50V390.50H241.50V393.50H247.50V396.50H250.50V399.50H251.50V402.50H262.50V406.50H271.50V409.50H274.50V413.50H275.50V417.50H281.50V421.50H292.50V425.50H313.50V432.50" stroke="#d0508e" stroke-width="1.15" fill="none"/>
<path d="M218.50,373.50H221.50V375.50H224.50V379.50H225.50V381.50H232.50V383.50H242.50V387.50H245.50V390.50H249.50V392.50H251.50V395.50H254.50V396.50H277.50V400.50H315.50V400.50" stroke="#44698c" stroke-width="1.15" fill="none"/>
<line x1="268.50" y1="395.40" x2="268.50" y2="397.60" stroke="#1f3a55" stroke-width="0.9"/>
<line x1="272.50" y1="395.40" x2="272.50" y2="397.60" stroke="#1f3a55" stroke-width="0.9"/>
<line x1="280.50" y1="399.40" x2="280.50" y2="401.60" stroke="#1f3a55" stroke-width="0.9"/>
<line x1="284.50" y1="399.40" x2="284.50" y2="401.60" stroke="#1f3a55" stroke-width="0.9"/>
<line x1="289.50" y1="399.40" x2="289.50" y2="401.60" stroke="#1f3a55" stroke-width="0.9"/>
<line x1="293.50" y1="399.40" x2="293.50" y2="401.60" stroke="#1f3a55" stroke-width="0.9"/>
<line x1="315.50" y1="399.40" x2="315.50" y2="401.60" stroke="#1f3a55" stroke-width="0.9"/>
<line x1="264.50" y1="405.40" x2="264.50" y2="407.60" stroke="#a83570" stroke-width="0.9"/>
<line x1="285.50" y1="420.40" x2="285.50" y2="422.60" stroke="#a83570" stroke-width="0.9"/>
<line x1="305.50" y1="424.40" x2="305.50" y2="426.60" stroke="#a83570" stroke-width="0.9"/>
<text x="168.10" y="466.68" font-size="6.6" fill="#3d6c9c" textLength="40.90" lengthAdjust="spacingAndGlyphs">TEM (≤Median)</text>
<text x="218.50" y="466.68" font-size="6.6" fill="#3d6c9c" text-anchor="middle">22</text>
<text x="235.58" y="466.68" font-size="6.6" fill="#3d6c9c" text-anchor="middle">18</text>
<text x="252.66" y="466.68" font-size="6.6" fill="#3d6c9c" text-anchor="middle">13</text>
<text x="269.74" y="466.68" font-size="6.6" fill="#3d6c9c" text-anchor="middle">11</text>
<text x="286.82" y="466.68" font-size="6.6" fill="#3d6c9c" text-anchor="middle">4</text>
<text x="303.90" y="466.68" font-size="6.6" fill="#3d6c9c" text-anchor="middle">2</text>
<text x="320.98" y="466.68" font-size="6.6" fill="#3d6c9c" text-anchor="middle">0</text>
<text x="168.10" y="476.58" font-size="6.6" fill="#d64896" textLength="40.90" lengthAdjust="spacingAndGlyphs">TEM (>Median)</text>
<text x="218.50" y="476.58" font-size="6.6" fill="#d64896" text-anchor="middle">21</text>
<text x="235.58" y="476.58" font-size="6.6" fill="#d64896" text-anchor="middle">17</text>
<text x="252.66" y="476.58" font-size="6.6" fill="#d64896" text-anchor="middle">9</text>
<text x="269.74" y="476.58" font-size="6.6" fill="#d64896" text-anchor="middle">6</text>
<text x="286.82" y="476.58" font-size="6.6" fill="#d64896" text-anchor="middle">3</text>
<text x="303.90" y="476.58" font-size="6.6" fill="#d64896" text-anchor="middle">1</text>
<text x="320.98" y="476.58" font-size="6.6" fill="#d64896" text-anchor="middle">0</text>
<text x="375.60" y="350.00" font-size="10.8" fill="#111" font-weight="bold" stroke="#111" stroke-width="0.3">I</text>
<text x="409.80" y="345.40" font-size="6.7" fill="#2a2a2a" textLength="46.60" lengthAdjust="spacingAndGlyphs">Median (95% CI)</text>
<line x1="409.80" y1="346.30" x2="456.40" y2="346.30" stroke="#555" stroke-width="0.5"/>
<line x1="409.50" y1="369.00" x2="409.50" y2="433.70" stroke="#1c1c1c" stroke-width="1.3"/>
<line x1="406.50" y1="433.00" x2="409.50" y2="433.00" stroke="#1c1c1c" stroke-width="1"/>
<line x1="406.50" y1="403.00" x2="409.50" y2="403.00" stroke="#1c1c1c" stroke-width="1"/>
<line x1="406.50" y1="373.00" x2="409.50" y2="373.00" stroke="#1c1c1c" stroke-width="1"/>
<line x1="408.00" y1="418.00" x2="409.50" y2="418.00" stroke="#1c1c1c" stroke-width="1"/>
<line x1="408.00" y1="388.00" x2="409.50" y2="388.00" stroke="#1c1c1c" stroke-width="1"/>
<text x="404.20" y="375.38" font-size="6.6" fill="#333" text-anchor="end">1.0</text>
<text x="404.20" y="405.38" font-size="6.6" fill="#333" text-anchor="end">0.5</text>
<text x="404.20" y="435.38" font-size="6.6" fill="#333" text-anchor="end">0.0</text>
<line x1="408.90" y1="433.00" x2="510.30" y2="433.00" stroke="#1c1c1c" stroke-width="1.4"/>
<line x1="409.50" y1="433.00" x2="409.50" y2="436.00" stroke="#1c1c1c" stroke-width="1"/>
<text x="409.50" y="444.38" font-size="6.6" fill="#333" text-anchor="middle">0</text>
<line x1="423.90" y1="433.00" x2="423.90" y2="434.50" stroke="#1c1c1c" stroke-width="1"/>
<line x1="438.30" y1="433.00" x2="438.30" y2="436.00" stroke="#1c1c1c" stroke-width="1"/>
<text x="438.30" y="444.38" font-size="6.6" fill="#333" text-anchor="middle">200</text>
<line x1="452.70" y1="433.00" x2="452.70" y2="434.50" stroke="#1c1c1c" stroke-width="1"/>
<line x1="467.10" y1="433.00" x2="467.10" y2="436.00" stroke="#1c1c1c" stroke-width="1"/>
<text x="467.10" y="444.38" font-size="6.6" fill="#333" text-anchor="middle">400</text>
<line x1="481.50" y1="433.00" x2="481.50" y2="434.50" stroke="#1c1c1c" stroke-width="1"/>
<line x1="495.90" y1="433.00" x2="495.90" y2="436.00" stroke="#1c1c1c" stroke-width="1"/>
<text x="495.90" y="444.38" font-size="6.6" fill="#333" text-anchor="middle">600</text>
<line x1="510.30" y1="433.00" x2="510.30" y2="434.50" stroke="#1c1c1c" stroke-width="1"/>
<text x="452.70" y="456.30" font-size="8.6" fill="#2a2a2a" stroke="#2a2a2a" stroke-width="0.12" text-anchor="middle" textLength="90.4" lengthAdjust="spacingAndGlyphs">Time since HBI0101 infusion (days)</text>
<text x="0" y="0" font-size="8" fill="#2a2a2a" stroke="#2a2a2a" stroke-width="0.12" text-anchor="middle" textLength="40.5" lengthAdjust="spacingAndGlyphs" transform="translate(389.3,403.3) rotate(-90)">OS (probability)</text>
<text x="421.60" y="405.85" font-size="6.8" fill="#2a2a2a" textLength="15.40" lengthAdjust="spacingAndGlyphs"><tspan font-style="italic">P</tspan> = .1</text>
<path d="M409.50,373.50H421.50V375.50H425.50V378.50H432.50V381.50H434.50V382.50H436.50V387.50H441.50V390.50H448.50V394.50H468.50V399.50H490.50V410.50H494.50V410.50" stroke="#d0508e" stroke-width="1.15" fill="none"/>
<path d="M409.50,373.50H421.50V375.50H425.50V378.50H457.50V382.50H464.50V386.50H502.50V386.50" stroke="#44698c" stroke-width="1.15" fill="none"/>
<line x1="430.50" y1="377.40" x2="430.50" y2="379.60" stroke="#1f3a55" stroke-width="0.9"/>
<line x1="435.50" y1="377.40" x2="435.50" y2="379.60" stroke="#1f3a55" stroke-width="0.9"/>
<line x1="446.50" y1="377.40" x2="446.50" y2="379.60" stroke="#1f3a55" stroke-width="0.9"/>
<line x1="466.50" y1="385.40" x2="466.50" y2="387.60" stroke="#1f3a55" stroke-width="0.9"/>
<line x1="480.50" y1="385.40" x2="480.50" y2="387.60" stroke="#1f3a55" stroke-width="0.9"/>
<line x1="492.50" y1="385.40" x2="492.50" y2="387.60" stroke="#1f3a55" stroke-width="0.9"/>
<line x1="501.50" y1="385.40" x2="501.50" y2="387.60" stroke="#1f3a55" stroke-width="0.9"/>
<line x1="453.50" y1="393.40" x2="453.50" y2="395.60" stroke="#a83570" stroke-width="0.9"/>
<line x1="456.50" y1="393.40" x2="456.50" y2="395.60" stroke="#a83570" stroke-width="0.9"/>
<line x1="483.50" y1="398.40" x2="483.50" y2="400.60" stroke="#a83570" stroke-width="0.9"/>
<line x1="486.50" y1="398.40" x2="486.50" y2="400.60" stroke="#a83570" stroke-width="0.9"/>
<line x1="493.50" y1="409.40" x2="493.50" y2="411.60" stroke="#a83570" stroke-width="0.9"/>
<text x="359.00" y="466.68" font-size="6.6" fill="#3d6c9c" textLength="42.60" lengthAdjust="spacingAndGlyphs">TEM (≤Median)</text>
<text x="409.50" y="466.68" font-size="6.6" fill="#3d6c9c" text-anchor="middle">22</text>
<text x="423.90" y="466.68" font-size="6.6" fill="#3d6c9c" text-anchor="middle">21</text>
<text x="438.30" y="466.68" font-size="6.6" fill="#3d6c9c" text-anchor="middle">16</text>
<text x="452.70" y="466.68" font-size="6.6" fill="#3d6c9c" text-anchor="middle">15</text>
<text x="467.10" y="466.68" font-size="6.6" fill="#3d6c9c" text-anchor="middle">9</text>
<text x="481.50" y="466.68" font-size="6.6" fill="#3d6c9c" text-anchor="middle">3</text>
<text x="495.90" y="466.68" font-size="6.6" fill="#3d6c9c" text-anchor="middle">1</text>
<text x="361.50" y="476.58" font-size="6.6" fill="#d64896" textLength="40.10" lengthAdjust="spacingAndGlyphs">TEM(>Median)</text>
<text x="409.50" y="476.58" font-size="6.6" fill="#d64896" text-anchor="middle">21</text>
<text x="423.90" y="476.58" font-size="6.6" fill="#d64896" text-anchor="middle">20</text>
<text x="438.30" y="476.58" font-size="6.6" fill="#d64896" text-anchor="middle">15</text>
<text x="452.70" y="476.58" font-size="6.6" fill="#d64896" text-anchor="middle">10</text>
<text x="467.10" y="476.58" font-size="6.6" fill="#d64896" text-anchor="middle">8</text>
<text x="481.50" y="476.58" font-size="6.6" fill="#d64896" text-anchor="middle">7</text>
<text x="495.90" y="476.58" font-size="6.6" fill="#d64896" text-anchor="middle">0</text>
<line x1="287.70" y1="490.50" x2="301.00" y2="490.50" stroke="#44698c" stroke-width="1"/>
<line x1="294.35" y1="489.50" x2="294.35" y2="491.50" stroke="#44698c" stroke-width="0.6"/>
<text x="304.40" y="492.84" font-size="6.5" fill="#3a3a3a"></text>
<line x1="353.00" y1="490.50" x2="366.00" y2="490.50" stroke="#d0508e" stroke-width="1"/>
<line x1="359.50" y1="489.50" x2="359.50" y2="491.50" stroke="#d0508e" stroke-width="0.6"/>
<text x="368.75" y="492.84" font-size="6.5" fill="#3a3a3a"></text>
<text x="218.75" y="352.50" font-size="6.7" fill="#2a2a2a" textLength="2.8" lengthAdjust="spacingAndGlyphs">T</text>
<text x="221.95" y="354.80" font-size="3.9" fill="#2a2a2a" textLength="5.8" lengthAdjust="spacingAndGlyphs">EM</text>
<text x="229.10" y="352.50" font-size="6.7" fill="#2a2a2a" textLength="68.40" lengthAdjust="spacingAndGlyphs">(≤Median) - NR (164-NR)</text>
<text x="218.75" y="360.00" font-size="6.7" fill="#2a2a2a" textLength="2.8" lengthAdjust="spacingAndGlyphs">T</text>
<text x="221.95" y="362.30" font-size="3.9" fill="#2a2a2a" textLength="5.8" lengthAdjust="spacingAndGlyphs">EM</text>
<text x="229.10" y="360.00" font-size="6.7" fill="#2a2a2a" textLength="71.90" lengthAdjust="spacingAndGlyphs">(>Median) - 262 (119-342)</text>
<text x="409.90" y="352.50" font-size="6.7" fill="#2a2a2a" textLength="2.8" lengthAdjust="spacingAndGlyphs">T</text>
<text x="413.10" y="354.80" font-size="3.9" fill="#2a2a2a" textLength="5.8" lengthAdjust="spacingAndGlyphs">EM</text>
<text x="420.60" y="352.50" font-size="6.7" fill="#2a2a2a" textLength="66.30" lengthAdjust="spacingAndGlyphs">(≤Median) - NR (NR-NR)</text>
<text x="409.90" y="360.00" font-size="6.7" fill="#2a2a2a" textLength="2.8" lengthAdjust="spacingAndGlyphs">T</text>
<text x="413.10" y="362.30" font-size="3.9" fill="#2a2a2a" textLength="5.8" lengthAdjust="spacingAndGlyphs">EM</text>
<text x="420.60" y="360.00" font-size="6.7" fill="#2a2a2a" textLength="70.40" lengthAdjust="spacingAndGlyphs">(>Median) - 565 (223-NR)</text>
<text x="304.20" y="492.90" font-size="6.6" fill="#3a3a3a" textLength="2.8" lengthAdjust="spacingAndGlyphs">T</text>
<text x="307.40" y="494.60" font-size="4.6" fill="#3a3a3a" textLength="6.0" lengthAdjust="spacingAndGlyphs">EM</text>
<text x="313.50" y="492.90" font-size="6.6" fill="#3a3a3a" textLength="26.70" lengthAdjust="spacingAndGlyphs">(≤Median)</text>
<text x="368.60" y="492.90" font-size="6.6" fill="#3a3a3a" textLength="2.8" lengthAdjust="spacingAndGlyphs">T</text>
<text x="371.80" y="494.60" font-size="4.6" fill="#3a3a3a" textLength="6.0" lengthAdjust="spacingAndGlyphs">EM</text>
<text x="377.90" y="492.90" font-size="6.6" fill="#3a3a3a" textLength="27.30" lengthAdjust="spacingAndGlyphs">(>Median)</text>
<rect x="0.5" y="0.5" width="519" height="501" fill="none" stroke="#4a4a4a" stroke-width="1"/>
</svg>
</body></html>
